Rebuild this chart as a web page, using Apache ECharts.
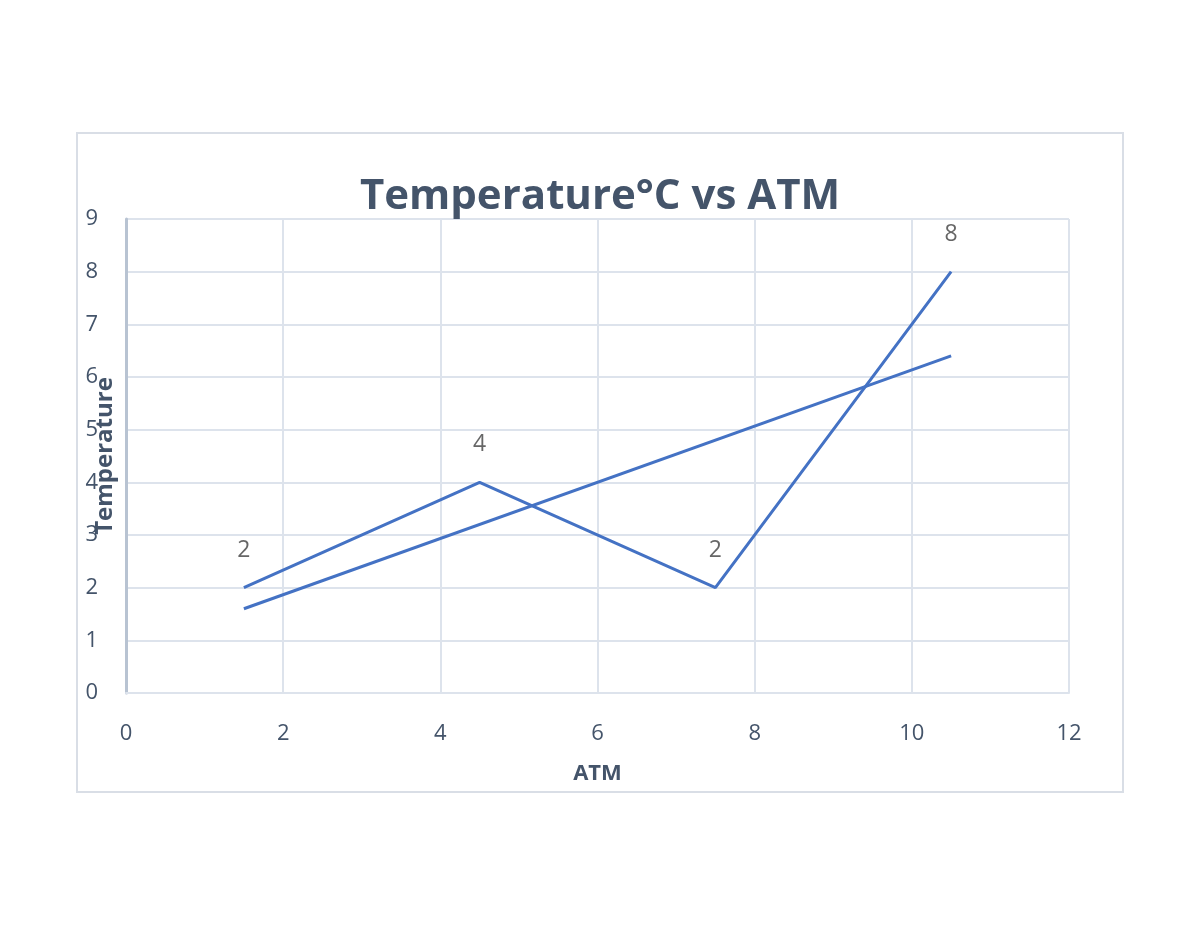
<!DOCTYPE html>
<html>
<head>
<meta charset="utf-8">
<script src="https://cdn.jsdelivr.net/npm/echarts@6/dist/echarts.min.js"></script>
<style>html,body{margin:0;padding:0;background:#fff}#c{width:1200px;height:927px}</style>
</head>
<body>
<div id="c"></div>
<script>
var atm = [1.5, 4.5, 7.5, 10.5];
var temperature = [2, 4, 2, 8];
var trendX = [1.5, 10.5];
var trendY = [1.6, 6.4];
var xTicks = [0, 2, 4, 6, 8, 10, 12];
var yTicks = [0, 1, 2, 3, 4, 5, 6, 7, 8, 9];

var txt = '#44546a';
var font = "'Open Sans', sans-serif";
var chart = echarts.init(document.getElementById('c'));
chart.setOption({
  animation: false,
  backgroundColor: '#fff',
  graphic: [{
    type: 'rect', shape: {x: 77, y: 133, width: 1046, height: 659},
    style: {fill: 'none', stroke: '#d9dee6', lineWidth: 2}, silent: true, z: -1
  }],
  title: {
    text: 'Temperature°C vs ATM', left: 'center', top: 171,
    textStyle: {fontFamily: font, fontWeight: 'bold', fontSize: 42, color: txt}
  },
  grid: {left: 126, right: 131, top: 219, bottom: 234},
  xAxis: {
    type: 'value', min: xTicks[0], max: xTicks[xTicks.length - 1], interval: 2,
    name: 'ATM', nameLocation: 'middle', nameGap: 70,
    nameTextStyle: {fontFamily: font, fontWeight: 'bold', fontSize: 22, color: txt},
    axisLine: {show: true, lineStyle: {color: '#dde3ec', width: 2}},
    axisTick: {show: false},
    splitLine: {show: true, lineStyle: {color: '#dde3ec', width: 2}},
    axisLabel: {fontFamily: font, fontSize: 22, color: txt, margin: 30}
  },
  yAxis: {
    type: 'value', min: yTicks[0], max: yTicks[yTicks.length - 1], interval: 1,
    name: 'Temperature', nameLocation: 'middle', nameGap: 9, nameRotate: 90,
    nameMoveOverlap: false,
    nameTextStyle: {fontFamily: font, fontWeight: 'bold', fontSize: 24, color: txt},
    axisLine: {show: true, lineStyle: {color: '#b8c3d2', width: 3}},
    axisTick: {show: false},
    splitLine: {show: true, lineStyle: {color: '#dde3ec', width: 2}},
    axisLabel: {fontFamily: font, fontSize: 22, color: txt, margin: 28}
  },
  series: [{
    type: 'line',
    data: atm.map(function (x, i) { return [x, temperature[i]]; }),
    symbol: 'none',
    lineStyle: {color: '#4472c4', width: 3},
    z: 3
  }, {
    type: 'scatter',
    data: atm.map(function (x, i) { return [x, temperature[i]]; }),
    symbolSize: 2,
    itemStyle: {color: 'rgba(0,0,0,0)'},
    label: {show: true, position: 'top', distance: 25, fontFamily: font, fontSize: 23, color: '#404040',
      formatter: function (p) { return String(p.value[1]); }},
    z: 4
  }, {
    type: 'line',
    data: trendX.map(function (x, i) { return [x, trendY[i]]; }),
    symbol: 'none',
    lineStyle: {color: '#4472c4', width: 3},
    z: 3
  }]
});
</script>
</body>
</html>
